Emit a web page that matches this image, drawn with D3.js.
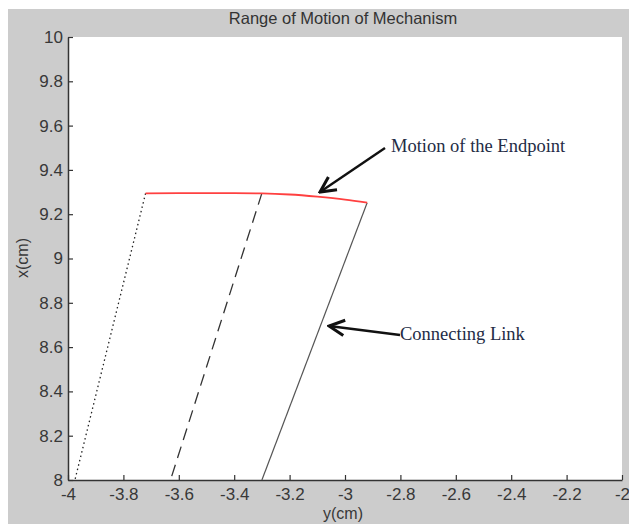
<!DOCTYPE html>
<html><head><meta charset="utf-8">
<script src="https://cdn.jsdelivr.net/npm/d3@7"></script>
<style>body{margin:0;background:#fff}svg{display:block}</style>
</head><body><div id="chart"></div>
<script>
const title = "Range of Motion of Mechanism";
const xLabel = "y(cm)";
const yLabel = "x(cm)";
const xTicks = [-4,-3.8,-3.6,-3.4,-3.2,-3,-2.8,-2.6,-2.4,-2.2,-2];
const yTicks = [8,8.2,8.4,8.6,8.8,9,9.2,9.4,9.6,9.8,10];
// link positions (horizontal, vertical)
const dottedLinkH = [-3.72,-3.975];
const dottedLinkV = [9.294,8];
const dashedLinkH = [-3.30,-3.63];
const dashedLinkV = [9.295,8];
const solidLinkH = [-2.92,-3.30];
const solidLinkV = [9.252,8];
// endpoint trace
const endpointH = [-3.72,-3.6,-3.5,-3.4,-3.3,-3.2,-3.1,-3.0,-2.92];
const endpointV = [9.294,9.295,9.295,9.295,9.294,9.289,9.279,9.266,9.252];
const annotations = [
  {text:"Motion of the Endpoint", tx:391, ty:152, from:[385,148], to:[320,192]},
  {text:"Connecting Link", tx:400, ty:340, from:[400,335], to:[329,326]}
];

const W=629,H=524;
const sans="Liberation Sans, Arial, sans-serif";
const svg=d3.select("#chart").append("svg").attr("width",W).attr("height",H);
svg.append("rect").attr("x",8).attr("y",9).attr("width",W-8).attr("height",H-9).attr("fill","#cccccc");
const L=68,R=622,T=37,B=480;
const x=d3.scaleLinear().domain([-4,-2]).range([L,R]);
const y=d3.scaleLinear().domain([8,10]).range([B,T]);
svg.append("rect").attr("x",L).attr("y",T).attr("width",R-L).attr("height",B-T).attr("fill","#fff");

const xa=svg.append("g").attr("transform",`translate(0,${B})`)
  .call(d3.axisBottom(x).tickValues(xTicks).tickSizeInner(-5).tickSizeOuter(0).tickPadding(7).tickFormat(d=>String(+d.toFixed(1))));
const ya=svg.append("g").attr("transform",`translate(${L},0)`)
  .call(d3.axisLeft(y).tickValues(yTicks).tickSizeInner(-5).tickSizeOuter(0).tickPadding(5).tickFormat(d=>String(+d.toFixed(1))));
[xa,ya].forEach(g=>{
  g.select(".domain").attr("stroke","#333").attr("stroke-width",1.5);
  g.selectAll(".tick line").attr("stroke","#333").attr("stroke-width",1.2);
  g.selectAll("text").attr("font-family",sans).attr("font-size",17).attr("fill","#383838");
});
xa.selectAll("text").attr("dy","0.75em");

const line=d3.line().x(d=>x(d[0])).y(d=>y(d[1]));
const zip=(a,b)=>a.map((v,i)=>[v,b[i]]);
svg.append("path").attr("d",line(zip(dottedLinkH,dottedLinkV))).attr("fill","none").attr("stroke","#222").attr("stroke-width",1.3).attr("stroke-dasharray","1.5,3");
svg.append("path").attr("d",line(zip(dashedLinkH,dashedLinkV))).attr("fill","none").attr("stroke","#333").attr("stroke-width",1.3).attr("stroke-dasharray","12,7");
svg.append("path").attr("d",line(zip(solidLinkH,solidLinkV))).attr("fill","none").attr("stroke","#555").attr("stroke-width",1.2);
svg.append("path").attr("d",d3.line().curve(d3.curveMonotoneX).x(d=>x(d[0])).y(d=>y(d[1]))(zip(endpointH,endpointV))).attr("fill","none").attr("stroke","#ff4040").attr("stroke-width",1.8);

svg.append("text").attr("x",343).attr("y",24).attr("text-anchor","middle").attr("font-family",sans).attr("font-size",16.5).attr("fill","#333").text(title);
svg.append("text").attr("x",343).attr("y",519).attr("text-anchor","middle").attr("font-family",sans).attr("font-size",16).attr("fill","#383838").text(xLabel);
svg.append("text").attr("transform","translate(28,258) rotate(-90)").attr("text-anchor","middle").attr("font-family",sans).attr("font-size",16).attr("fill","#383838").text(yLabel);

const defs=svg.append("defs");
defs.append("marker").attr("id","ah").attr("viewBox","0 0 10 10").attr("refX",9).attr("refY",5).attr("markerWidth",8).attr("markerHeight",8).attr("orient","auto")
  .append("path").attr("d","M1,1 L9,5 L1,9").attr("fill","none").attr("stroke","#111").attr("stroke-width",1.6);
annotations.forEach(a=>{
  svg.append("line").attr("x1",a.from[0]).attr("y1",a.from[1]).attr("x2",a.to[0]).attr("y2",a.to[1]).attr("stroke","#111").attr("stroke-width",2.4).attr("marker-end","url(#ah)");
  svg.append("text").attr("x",a.tx).attr("y",a.ty).attr("font-family","Liberation Serif, Times New Roman, serif").attr("font-size",18.5).attr("fill","#232b45").text(a.text);
});
</script></body></html>
